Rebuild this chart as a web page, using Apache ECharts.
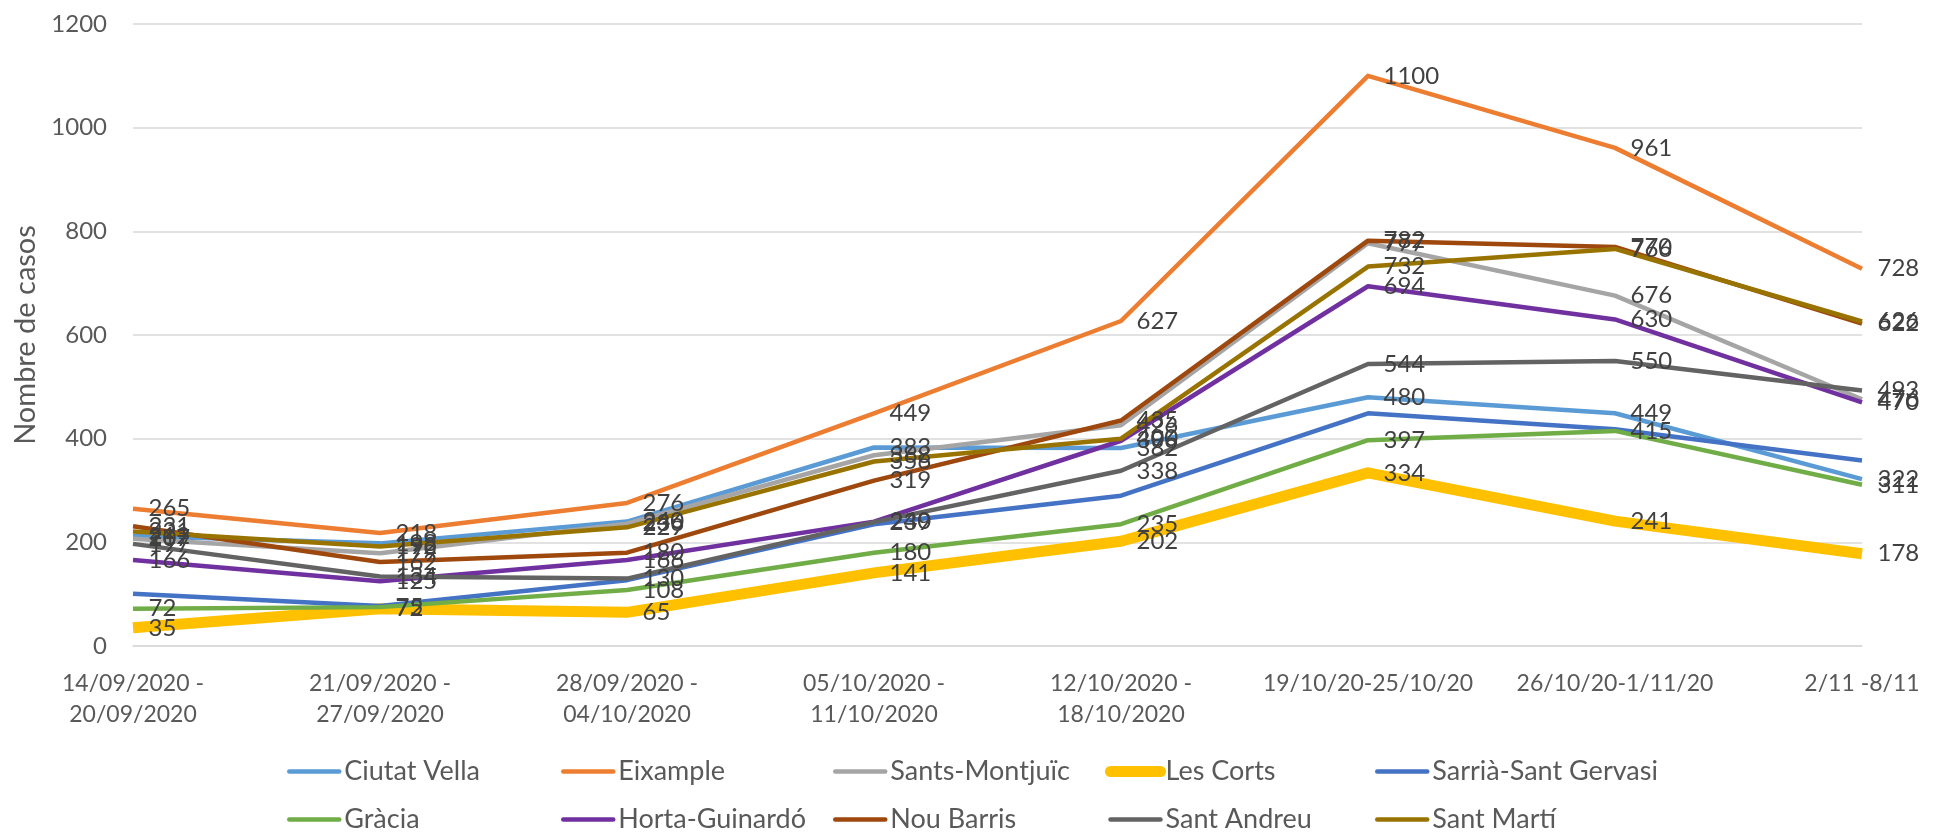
<!DOCTYPE html>
<html>
<head>
<meta charset="utf-8">
<script src="https://cdn.jsdelivr.net/npm/echarts@6/dist/echarts.min.js"></script>
<style>
  html, body { margin: 0; padding: 0; background: #fff; }
  #chart { width: 1944px; height: 835px; }
</style>
</head>
<body>
<div id="chart"></div>
<script>
const weeks = [
    "14/09/2020 -\n20/09/2020", "21/09/2020 -\n27/09/2020", "28/09/2020 -\n04/10/2020",
    "05/10/2020 -\n11/10/2020", "12/10/2020 -\n18/10/2020", "19/10/20-25/10/20",
    "26/10/20-1/11/20", "2/11 -8/11"
]
const ciutatVella = [212, 198, 240, 383, 382, 480, 449, 322]
const eixample = [265, 218, 276, 449, 627, 1100, 961, 728]
const santsMontjuic = [207, 179, 236, 368, 426, 777, 676, 476]
const lesCorts = [35, 72, 65, 141, 202, 334, 241, 178]
const sarria = [101, 77, 127, 235, 290, 449, 418, 358]
const gracia = [72, 75, 108, 180, 235, 397, 415, 311]
const hortaGuinardo = [166, 125, 166, 240, 396, 694, 630, 470]
const nouBarris = [231, 162, 180, 319, 435, 782, 770, 622]
const santAndreu = [197, 134, 130, 239, 338, 544, 550, 493]
const santMarti = [221, 192, 229, 356, 400, 732, 766, 626]

const districts = [
    {name: "Ciutat Vella", data: ciutatVella, color: "#5B9BD5"},
    {name: "Eixample", data: eixample, color: "#ED7D31"},
    {name: "Sants-Montjuïc", data: santsMontjuic, color: "#A5A5A5"},
    {name: "Les Corts", data: lesCorts, color: "#FFC000", width: 11},
    {name: "Sarrià-Sant Gervasi", data: sarria, color: "#4472C4", noLabel: true},
    {name: "Gràcia", data: gracia, color: "#70AD47"},
    {name: "Horta-Guinardó", data: hortaGuinardo, color: "#7030A0"},
    {name: "Nou Barris", data: nouBarris, color: "#9E480E"},
    {name: "Sant Andreu", data: santAndreu, color: "#636363"},
    {name: "Sant Martí", data: santMarti, color: "#997300"}
]

const font = "Lato, 'Open Sans', sans-serif"
const legendLeft = [287, 561, 833, 1105, 1375]
const lineW = 4.5

var myChart = echarts.init(document.getElementById("chart"))

var legendItem = d => ({
    name: d.name,
    itemStyle: {color: "transparent", borderWidth: 0},
    lineStyle: {color: d.color, width: d.width || lineW, cap: "round"}
})

// legend laid out as 5 columns of 2 rows, like the original
var legends = legendLeft.map((x, i) => ({
    orient: "vertical",
    left: x,
    top: 758,
    height: 120,
    padding: 0,
    itemWidth: 50,
    itemHeight: 14,
    itemGap: 21,
    textStyle: {color: "#595959", fontSize: 27, fontFamily: font},
    data: [legendItem(districts[i]), legendItem(districts[i + 5])]
}))

var option = {
    animation: false,
    legend: legends,
    grid: {left: 133, right: 82, top: 24, bottom: 189},
    xAxis: {
        type: "category",
        boundaryGap: false,
        data: weeks,
        axisLine: {lineStyle: {color: "#D9D9D9", width: 1.5}},
        axisTick: {show: false},
        axisLabel: {interval: 0, color: "#595959", fontSize: 23, fontFamily: font, lineHeight: 31, margin: 22}
    },
    yAxis: {
        type: "value",
        min: 0,
        max: 1200,
        interval: 200,
        name: "Nombre de casos",
        nameLocation: "middle",
        nameGap: 92,
        nameTextStyle: {color: "#595959", fontSize: 29, fontFamily: font},
        axisLine: {show: false},
        axisTick: {show: false},
        axisLabel: {color: "#595959", fontSize: 24, fontFamily: font, margin: 26, formatter: v => String(v)},
        splitLine: {lineStyle: {color: "#D9D9D9", width: 1.5}}
    },
    series: districts.map(d => ({
        name: d.name,
        type: "line",
        data: d.data,
        symbol: "circle",
        symbolSize: 1,
        color: d.color,
        itemStyle: {color: "transparent", borderWidth: 0},
        lineStyle: {color: d.color, width: d.width || lineW, join: "round"},
        label: {
            show: !d.noLabel,
            position: "right",
            distance: 15,
            color: "#404040",
            fontSize: 24,
            fontFamily: font
        }
    }))
}
myChart.setOption(option)
</script>
</body>
</html>
